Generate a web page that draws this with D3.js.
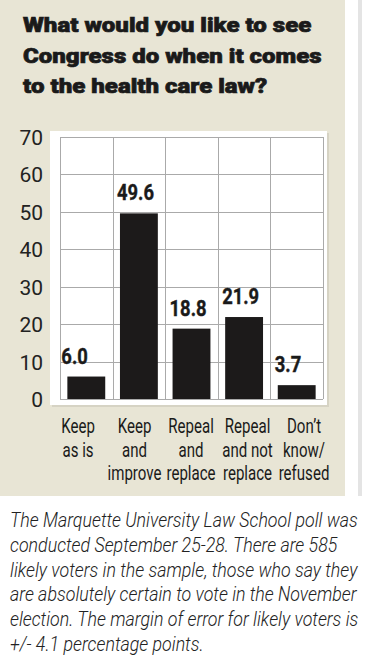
<!DOCTYPE html>
<html>
<head>
<meta charset="utf-8">
<script src="https://cdn.jsdelivr.net/npm/d3@7"></script>
<style>
  body { margin: 0; background: #fff; }
  svg { display: block; }
</style>
</head>
<body>
<script>
// poll answers, percent of likely voters
var categories = [["Keep", "as is"], ["Keep", "and", "improve"], ["Repeal", "and", "replace"], ["Repeal", "and not", "replace"], ["Don\u2019t", "know/", "refused"]];
var values = [6.0, 49.6, 18.8, 21.9, 3.7];
var valueLabels = ["6.0", "49.6", "18.8", "21.9", "3.7"];
var yTicks = [0, 10, 20, 30, 40, 50, 60, 70];
var titleLines = ["What would you like to see", "Congress do when it comes", "to the health care law?"];
var noteLines = [
  "The Marquette University Law School poll was",
  "conducted September 25-28. There are 585",
  "likely voters in the sample, those who say they",
  "are absolutely certain to vote in the November",
  "election. The margin of error for likely voters is",
  "+/- 4.1 percentage points."
];

var W = 369, H = 661;
var font = "Roboto, 'Noto Sans', sans-serif";

var svg = d3.select("body").append("svg").attr("width", W).attr("height", H);

// squeeze text horizontally (the paper uses a condensed face we don't have)
// k is picked so the reference line gets the wanted width
function condense(sel, refNode, targetW) {
  var k = targetW / refNode.getComputedTextLength();
  sel.each(function() {
    var t = d3.select(this);
    var tx = +t.attr("x"), ty = +t.attr("y");
    t.attr("x", 0).attr("y", 0)
      .attr("transform", "translate(" + tx + "," + ty + ") scale(" + k + ",1)");
  });
}

// beige panel + the grey rule on the right
svg.append("rect").attr("x", 0).attr("y", 0).attr("width", 345).attr("height", 496).attr("fill", "#e8e5d5");
svg.append("rect").attr("x", 358).attr("y", 0).attr("width", 4).attr("height", 496).attr("fill", "#e4e4e4");

// title
var title = svg.selectAll(".title").data(titleLines).enter().append("text")
  .attr("x", 23)
  .attr("y", function(d, i) { return 32 + i * 30.5; })
  .style("font-family", font).style("font-weight", "900").style("font-size", "21px")
  .attr("fill", "#1a1a1a").attr("stroke", "#1a1a1a").attr("stroke-width", 0.7)
  .text(function(d) { return d; });
condense(title, title.nodes()[1], 299);

// white plot box with a soft shadow
svg.append("rect").attr("x", 52).attr("y", 133).attr("width", 277).attr("height", 274).attr("fill", "#d6d3c4");
svg.append("rect").attr("x", 50).attr("y", 131).attr("width", 277).attr("height", 274).attr("fill", "#fff");

var x = d3.scaleBand().domain(d3.range(values.length)).range([60, 323]).paddingInner(0.28).paddingOuter(0.14);
var y = d3.scaleLinear().domain([0, 70]).range([399, 137]);
// labels under the bars sit a bit off the bar centres in the original
var xLab = d3.scalePoint().domain(d3.range(values.length)).range([78, 304]);

var colW = 263 / values.length;

// grid
var grid = svg.append("g").attr("stroke", "#aaa").attr("stroke-width", 1);
grid.selectAll(".h").data(yTicks).enter().append("line")
  .attr("x1", 60).attr("x2", 323)
  .attr("y1", function(d) { return Math.round(y(d)) + 0.5; })
  .attr("y2", function(d) { return Math.round(y(d)) + 0.5; });
grid.selectAll(".v").data(d3.range(values.length + 1)).enter().append("line")
  .attr("x1", function(d) { return Math.round(60 + d * colW) + 0.5; })
  .attr("x2", function(d) { return Math.round(60 + d * colW) + 0.5; })
  .attr("y1", y(70)).attr("y2", y(0));

// y axis labels
var yAxis = d3.axisLeft(y).tickValues(yTicks).tickSize(0).tickPadding(0);
var ya = svg.append("g").attr("transform", "translate(43,0)").call(yAxis);
ya.select(".domain").remove();
ya.selectAll("text")
  .style("font-family", font).style("font-size", "21px").attr("fill", "#222")
  .attr("dy", "0.36em");

// bars
svg.selectAll(".bar").data(values).enter().append("rect")
  .attr("x", function(d, i) { return x(i); })
  .attr("width", x.bandwidth())
  .attr("y", function(d) { return y(d); })
  .attr("height", function(d) { return y(0) - y(d); })
  .attr("fill", "#1c1a1a");

// value labels
var vals = svg.selectAll(".val").data(values).enter().append("text")
  .attr("x", function(d, i) { return x(i) - (i == 0 ? 6 : 3); })
  .attr("y", function(d) { return y(d) - 13; })
  .style("font-family", font).style("font-weight", "bold").style("font-size", "21.5px")
  .attr("fill", "#1a1a1a").attr("stroke", "#1a1a1a").attr("stroke-width", 0.4)
  .text(function(d, i) { return valueLabels[i]; });
condense(vals, vals.nodes()[1], 37);

// category labels, one text per line
var catLines = [];
categories.forEach(function(c, i) {
  c.forEach(function(s, j) { catLines.push({s: s, i: i, j: j}); });
});
var cat = svg.selectAll(".cat").data(catLines).enter().append("text")
  .attr("text-anchor", "middle")
  .attr("x", function(d) { return xLab(d.i); })
  .attr("y", function(d) { return 433 + d.j * 23.5; })
  .style("font-family", font).style("font-size", "21px").attr("fill", "#1a1a1a")
  .text(function(d) { return d.s; });
condense(cat, cat.filter(function(d) { return d.s == "improve"; }).node(), 54);

// footnote
var note = svg.selectAll(".note").data(noteLines).enter().append("text")
  .attr("x", 10)
  .attr("y", function(d, i) { return 527 + i * 24.8; })
  .style("font-family", font).style("font-style", "italic").style("font-weight", "300").style("font-size", "20px")
  .attr("fill", "#222")
  .text(function(d) { return d; });
condense(note, note.nodes()[0], 348);
</script>
</body>
</html>
